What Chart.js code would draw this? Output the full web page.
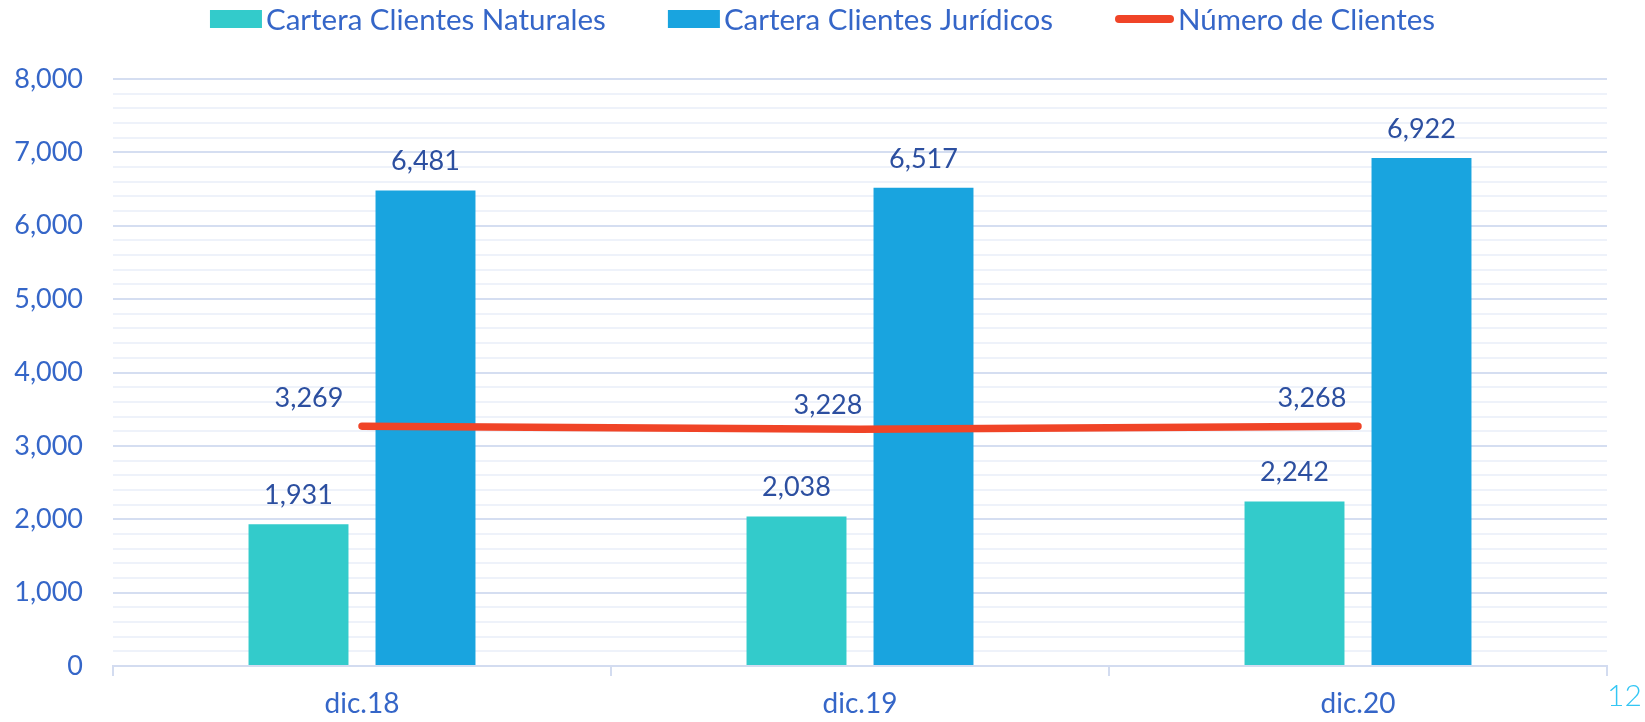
<!DOCTYPE html>
<html>
<head>
<meta charset="utf-8">
<script src="https://cdn.jsdelivr.net/npm/chart.js@4.4.1/dist/chart.umd.min.js"></script>
<style>
  html, body { margin: 0; padding: 0; background: #ffffff; }
  #wrap { width: 1645px; height: 722px; position: relative; }
</style>
</head>
<body>
<div id="wrap"><canvas id="c" width="1645" height="722"></canvas></div>
<script>
// ---- data ----
const categories = ['dic.18', 'dic.19', 'dic.20'];
const seriesNames = ['Cartera Clientes Naturales', 'Cartera Clientes Jurídicos', 'Número de Clientes'];
const naturales = [1931, 2038, 2242];
const juridicos = [6481, 6517, 6922];
const clientes = [3269, 3228, 3268];
const yTickMax = 8000;
const yMajorStep = 1000;
const yMinorStep = 200;
const pageNumber = '12';

// ---- styles ----
const FONT = 'Lato, "Open Sans", sans-serif';
const colTeal = '#33CBCB';
const colBlue = '#19A4DF';
const colRed = '#F04427';
const colTick = '#3566C8';
const colLabel = '#2C4FA0';
const lineLabelOffsets = [[-53, -28], [-32, -24], [-46, -28]];
const fmt = v => v.toLocaleString('en-US');

const dataLabels = {
  id: 'dataLabels',
  afterDatasetsDraw(chart) {
    const ctx = chart.ctx;
    ctx.save();
    ctx.font = '27px ' + FONT;
    ctx.fillStyle = colLabel;
    ctx.textAlign = 'center';
    ctx.textBaseline = 'middle';
    chart.data.datasets.forEach((ds, di) => {
      const meta = chart.getDatasetMeta(di);
      meta.data.forEach((el, i) => {
        const v = ds.data[i];
        if (ds.type === 'line') {
          const o = lineLabelOffsets[i];
          ctx.fillText(fmt(v), el.x + o[0], el.y + o[1]);
        } else {
          ctx.fillText(fmt(v), el.x, el.y - 29);
        }
      });
    });
    ctx.restore();
  }
};

const customLegend = {
  id: 'customLegend',
  afterDraw(chart) {
    const ctx = chart.ctx;
    ctx.save();
    ctx.font = '29.5px ' + FONT;
    ctx.textBaseline = 'middle';
    ctx.textAlign = 'left';
    const items = chart.data.datasets.map(ds => ({
      text: ds.label,
      isLine: ds.type === 'line',
      color: ds.type === 'line' ? ds.borderColor : ds.backgroundColor,
      sw: ds.type === 'line' ? 59 : 52,
      tw: ctx.measureText(ds.label).width
    }));
    const gapSym = 4, gapItem = 62;
    let total = 0;
    items.forEach((it, i) => { total += it.sw + gapSym + it.tw + (i ? gapItem : 0); });
    let x = chart.width / 2 - total / 2;
    const cy = 19;
    items.forEach(it => {
      if (it.isLine) {
        ctx.strokeStyle = it.color;
        ctx.lineWidth = 8;
        ctx.lineCap = 'round';
        ctx.beginPath();
        ctx.moveTo(x + 4, cy);
        ctx.lineTo(x + it.sw - 4, cy);
        ctx.stroke();
      } else {
        ctx.fillStyle = it.color;
        ctx.fillRect(x, cy - 9, it.sw, 18);
      }
      x += it.sw + gapSym;
      ctx.fillStyle = colTick;
      ctx.fillText(it.text, x, cy + 1);
      x += it.tw + gapItem;
    });
    // page number
    ctx.font = '300 30px ' + FONT;
    ctx.fillStyle = '#33C6F4';
    ctx.fillText(pageNumber, 1607, 696);
    ctx.restore();
  }
};

new Chart(document.getElementById('c'), {
  data: {
    labels: categories,
    datasets: [
      { type: 'bar', label: seriesNames[0], data: naturales, backgroundColor: colTeal,
        categoryPercentage: 0.51, barPercentage: 0.787, order: 1 },
      { type: 'bar', label: seriesNames[1], data: juridicos, backgroundColor: colBlue,
        categoryPercentage: 0.51, barPercentage: 0.787, order: 1 },
      { type: 'line', label: seriesNames[2], data: clientes, borderColor: colRed,
        backgroundColor: colRed, borderWidth: 7.5, borderCapStyle: 'round', borderJoinStyle: 'round',
        pointRadius: 0, tension: 0, fill: false, order: 0 }
    ]
  },
  options: {
    responsive: false,
    animation: false,
    layout: { padding: { top: 79, right: 38, left: 0, bottom: 0 } },
    plugins: { legend: { display: false }, tooltip: { enabled: false } },
    scales: {
      x: {
        offset: true,
        grid: { offset: true, drawOnChartArea: false, drawTicks: true, tickLength: 10,
                color: '#D3DCF0', lineWidth: 2 },
        border: { display: true, color: '#D3DCF0', width: 2 },
        ticks: { font: { family: FONT, size: 28 }, color: colTick, padding: 11 },
        afterFit(s) { s.height = 56; }
      },
      y: {
        min: 0, max: yTickMax,
        grid: {
          drawTicks: false,
          color: c => (c.tick.value % yMajorStep === 0 ? '#D5DEF1' : '#EEF2FA'),
          lineWidth: 2
        },
        border: { display: false },
        ticks: {
          stepSize: yMinorStep, autoSkip: false, padding: 30,
          font: { family: FONT, size: 27 }, color: colTick,
          callback: v => (v % yMajorStep === 0 ? fmt(v) : '')
        },
        afterFit(s) { s.width = 113; }
      }
    }
  },
  plugins: [dataLabels, customLegend]
});
</script>
</body>
</html>
